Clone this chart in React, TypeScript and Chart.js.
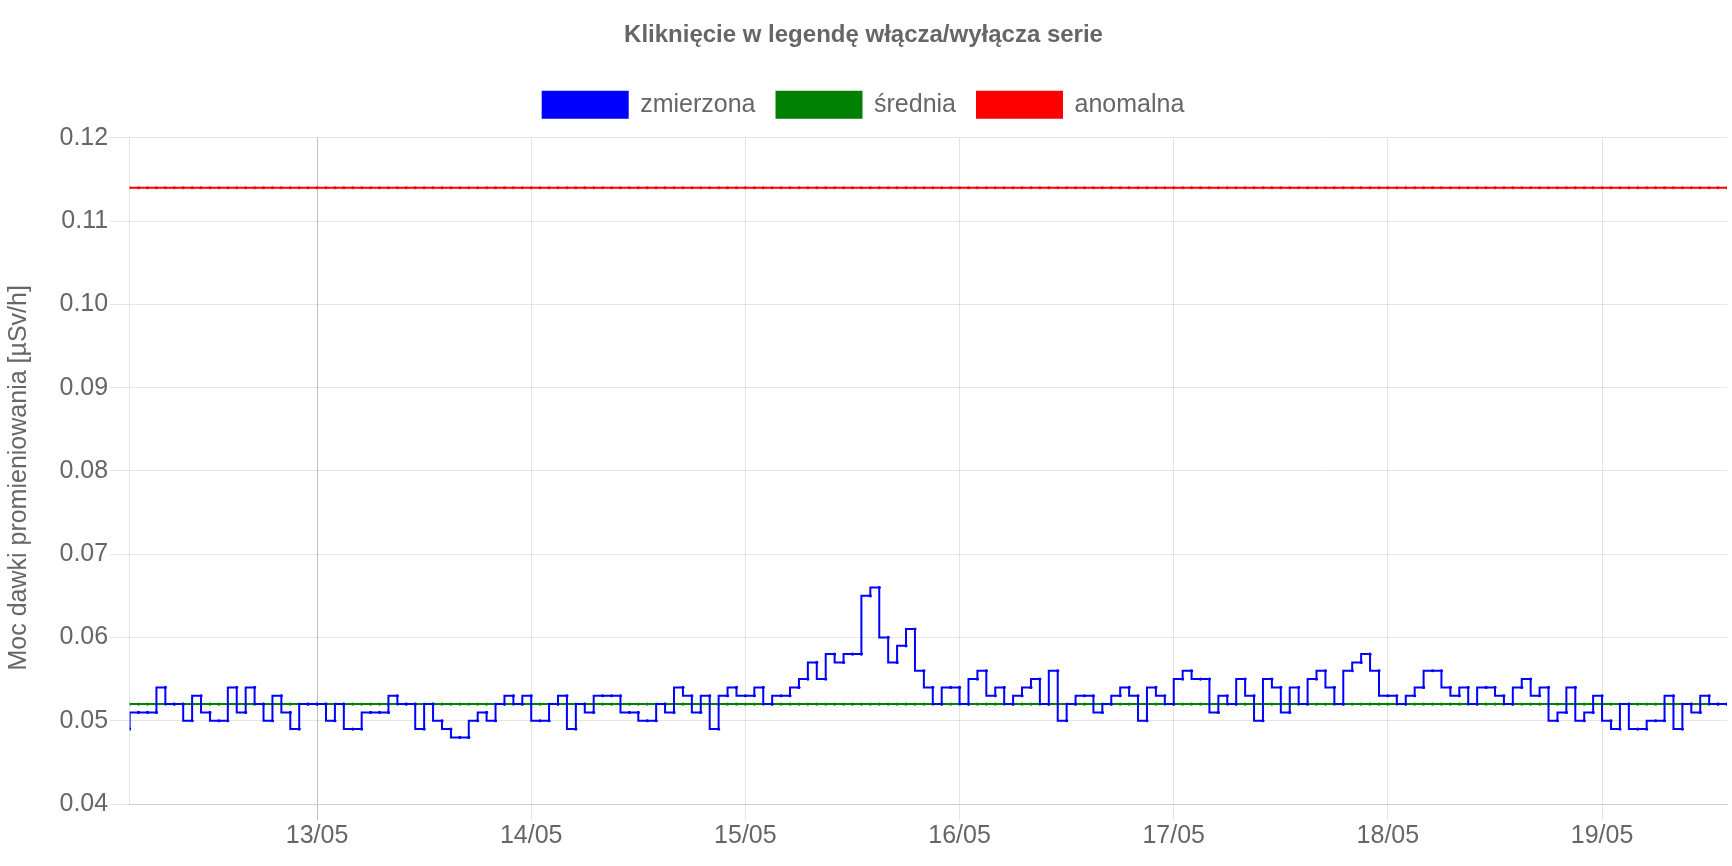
import React, { useEffect, useRef } from 'react';
import { Chart, registerables } from 'chart.js';

Chart.register(...registerables);

const FONT = '"Liberation Sans", Arial, Helvetica, sans-serif';
const TEXT_COLOR = '#666';

const titleText = 'Kliknięcie w legendę włącza/wyłącza serie';
const yAxisTitle = 'Moc dawki promieniowania [µSv/h]  ';
const seriesNames = ['zmierzona', 'średnia', 'anomalna'];
const seriesColors = ['#0000ff', '#008000', '#ff0000'];

// hours counted from 12/05 00:00; first reading at 12/05 03:00, hourly
const startHour = 3;
const dayTickHours = [24, 48, 72, 96, 120, 144, 168];
const dayTickLabels = ['13/05', '14/05', '15/05', '16/05', '17/05', '18/05', '19/05'];

const yMin = 0.04;
const yMax = 0.12;
const yStep = 0.01;

// measured dose rate, hourly readings [µSv/h]
const measured = [
  0.049, 0.051, 0.051, 0.051, 0.054, 0.052, 0.052, 0.050, 0.053, 0.051,
  0.050, 0.050, 0.054, 0.051, 0.054, 0.052, 0.050, 0.053, 0.051, 0.049,
  0.052, 0.052, 0.052, 0.050, 0.052, 0.049, 0.049, 0.051, 0.051, 0.051,
  0.053, 0.052, 0.052, 0.049, 0.052, 0.050, 0.049, 0.048, 0.048, 0.050,
  0.051, 0.050, 0.052, 0.053, 0.052, 0.053, 0.050, 0.050, 0.052, 0.053,
  0.049, 0.052, 0.051, 0.053, 0.053, 0.053, 0.051, 0.051, 0.050, 0.050,
  0.052, 0.051, 0.054, 0.053, 0.051, 0.053, 0.049, 0.053, 0.054, 0.053,
  0.053, 0.054, 0.052, 0.053, 0.053, 0.054, 0.055, 0.057, 0.055, 0.058,
  0.057, 0.058, 0.058, 0.065, 0.066, 0.060, 0.057, 0.059, 0.061, 0.056,
  0.054, 0.052, 0.054, 0.054, 0.052, 0.055, 0.056, 0.053, 0.054, 0.052,
  0.053, 0.054, 0.055, 0.052, 0.056, 0.050, 0.052, 0.053, 0.053, 0.051,
  0.052, 0.053, 0.054, 0.053, 0.050, 0.054, 0.053, 0.052, 0.055, 0.056,
  0.055, 0.055, 0.051, 0.053, 0.052, 0.055, 0.053, 0.050, 0.055, 0.054,
  0.051, 0.054, 0.052, 0.055, 0.056, 0.054, 0.052, 0.056, 0.057, 0.058,
  0.056, 0.053, 0.053, 0.052, 0.053, 0.054, 0.056, 0.056, 0.054, 0.053,
  0.054, 0.052, 0.054, 0.054, 0.053, 0.052, 0.054, 0.055, 0.053, 0.054,
  0.050, 0.051, 0.054, 0.050, 0.051, 0.053, 0.050, 0.049, 0.052, 0.049,
  0.049, 0.050, 0.050, 0.053, 0.049, 0.052, 0.051, 0.053, 0.052, 0.052,
];

const averageLevel = 0.052;
const anomalyLevel = 0.114;

export default function App() {
  const canvasRef = useRef<HTMLCanvasElement | null>(null);

  useEffect(() => {
    if (!canvasRef.current) return;
    Chart.defaults.font.family = FONT;
    Chart.defaults.color = TEXT_COLOR;

    const hours = measured.map((_, i) => startHour + i);
    const averageSeries = measured.map(() => averageLevel);
    const anomalySeries = measured.map(() => anomalyLevel);
    const toPoints = (vals: number[]) => vals.map((y, i) => ({ x: hours[i], y }));
    const allSeries = [measured, averageSeries, anomalySeries];

    const datasets = allSeries.map((vals, k) => ({
      label: seriesNames[k],
      data: toPoints(vals),
      borderColor: seriesColors[k],
      backgroundColor: seriesColors[k],
      borderWidth: 2,
      stepped: 'after' as const,
      fill: false,
      pointRadius: 1.6,
      pointBorderWidth: 0,
      pointBackgroundColor: seriesColors[k],
      pointHoverRadius: 2,
    }));

    const chart = new Chart(canvasRef.current, {
      type: 'line',
      data: { datasets },
      options: {
        animation: false,
        responsive: true,
        maintainAspectRatio: false,
        layout: { padding: { top: 0, right: 5, bottom: 14, left: 0 } },
        plugins: {
          title: {
            display: true,
            text: titleText,
            color: TEXT_COLOR,
            font: { family: FONT, size: 24, weight: 'bold' },
            padding: { top: 21, bottom: 21 },
          },
          subtitle: {
            display: true,
            text: '',
            weight: 500,
            font: { size: 10, lineHeight: 1 },
            padding: 0,
          },
          legend: {
            display: true,
            position: 'top',
            labels: {
              boxWidth: 85,
              boxHeight: 26,
              padding: 21,
              color: TEXT_COLOR,
              font: { family: FONT, size: 25 },
            },
          },
          tooltip: { enabled: false },
        },
        scales: {
          x: {
            type: 'linear',
            min: hours[0],
            max: hours[hours.length - 1],
            afterBuildTicks: (scale: any) => {
              scale.ticks = dayTickHours.map((v) => ({ value: v }));
            },
            ticks: {
              autoSkip: false,
              maxRotation: 0,
              minRotation: 0,
              padding: 1,
              color: TEXT_COLOR,
              font: { family: FONT, size: 25 },
              callback: (value: any) => {
                const idx = dayTickHours.indexOf(Number(value));
                return idx >= 0 ? dayTickLabels[idx] : '';
              },
            },
            grid: {
              tickLength: 16,
              color: (ctx: any) =>
                ctx.tick && ctx.tick.value === dayTickHours[0]
                  ? 'rgba(0,0,0,0.25)'
                  : 'rgba(0,0,0,0.1)',
            },
            border: { color: 'rgba(0,0,0,0.1)' },
          },
          y: {
            type: 'linear',
            min: yMin,
            max: yMax,
            ticks: {
              stepSize: yStep,
              padding: 1.5,
              color: TEXT_COLOR,
              font: { family: FONT, size: 25 },
              callback: (value: any) => Number(value).toFixed(2),
            },
            grid: { tickLength: 20, color: 'rgba(0,0,0,0.1)' },
            border: { color: 'rgba(0,0,0,0.1)' },
            title: {
              display: true,
              text: yAxisTitle,
              color: TEXT_COLOR,
              font: { family: FONT, size: 25 },
              padding: { top: 4, bottom: 24 },
            },
          },
        },
      } as any,
    });

    return () => chart.destroy();
  }, []);

  return (
    <div style={{ position: 'absolute', left: 0, top: 0, width: 1732, height: 866 }}>
      <canvas ref={canvasRef} />
    </div>
  );
}
